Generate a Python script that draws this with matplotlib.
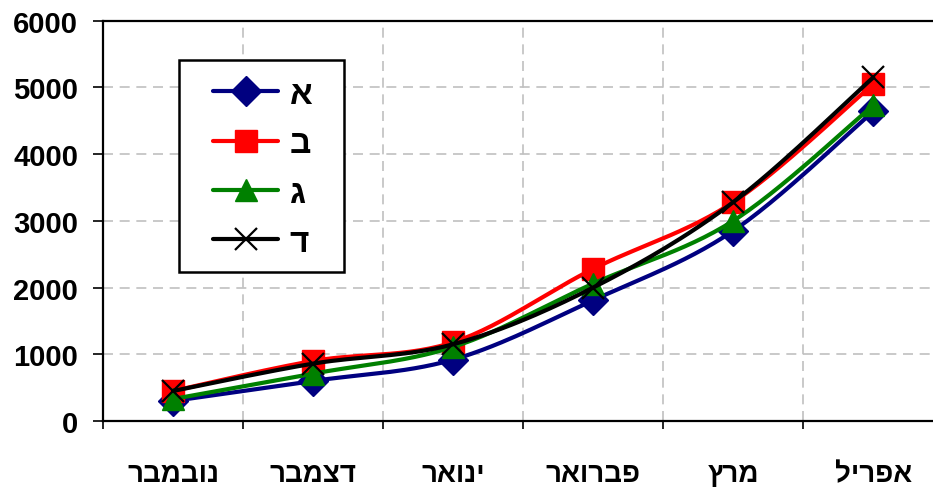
import numpy as np
import matplotlib
matplotlib.use("Agg")
import matplotlib.pyplot as plt
from matplotlib.lines import Line2D
from matplotlib.patches import Rectangle

months = ["נובמבר", "דצמבר", "ינואר", "פברואר", "מרץ", "אפריל"]
series_names = ["א", "ב", "ג", "ד"]
vals_a = [300, 600, 920, 1810, 2850, 4640]
vals_b = [450, 900, 1180, 2280, 3280, 5050]
vals_c = [330, 710, 1110, 2060, 3000, 4730]
vals_d = [450, 860, 1150, 2000, 3280, 5150]
yticks = [0, 1000, 2000, 3000, 4000, 5000, 6000]

colors = ["#000080", "#FF0000", "#008000", "#000000"]
markers = ["D", "s", "^", "x"]

plt.rcParams['font.family'] = ['Liberation Sans', 'DejaVu Sans']
plt.rcParams['font.weight'] = 'bold'


def smooth(xs, ys, n=30):
    xs = np.asarray(xs, float)
    ys = np.asarray(ys, float)
    P = np.column_stack([xs, ys])
    P = np.vstack([P[0], P, P[-1]])
    out = []
    for i in range(1, len(P) - 2):
        p0, p1, p2, p3 = P[i - 1], P[i], P[i + 1], P[i + 2]
        c1 = p1 + (p2 - p0) / 6.0
        c2 = p2 - (p3 - p1) / 6.0
        t = np.linspace(0, 1, n)[:, None]
        seg = ((1 - t) ** 3) * p1 + 3 * ((1 - t) ** 2) * t * c1 + 3 * (1 - t) * t ** 2 * c2 + t ** 3 * p2
        out.append(seg if i == 1 else seg[1:])
    out = np.vstack(out)
    return out[:, 0], out[:, 1]


# the reference shows the Hebrew glyphs in logical order left-to-right;
# the renderer applies RTL reordering, so feed it the reversed strings
month_labels = [m[::-1] for m in months]

W, H = 933, 489
fig = plt.figure(figsize=(W / 100, H / 100), dpi=100)
ax = fig.add_axes([103 / W, 67 / H, 840.3 / W, 400.3 / H])

x = np.arange(len(months))
all_vals = [vals_a, vals_b, vals_c, vals_d]
handles = []
for i, (vals, c, m) in enumerate(zip(all_vals, colors, markers)):
    sx, sy = smooth(x, vals)
    ax.plot(sx, sy, color=c, lw=3.0, solid_capstyle='round', zorder=3 + i, clip_on=False)
    if m == 'x':
        ax.plot(x, vals, linestyle='none', marker='x', ms=16, mew=1.6, color=c, zorder=3 + i, clip_on=False)
        h = Line2D([], [], color=c, lw=3.0, marker='x', ms=16, mew=1.6, solid_capstyle='round')
    else:
        ms = 15 if m == 'D' else 16
        ax.plot(x, vals, linestyle='none', marker=m, ms=ms, mec=c, mfc=c, color=c, zorder=3 + i, clip_on=False)
        h = Line2D([], [], color=c, lw=3.0, marker=m, ms=ms, mfc=c, mec=c, solid_capstyle='round')
    handles.append(h)

ax.set_xlim(-0.5, 5.5)
ax.set_ylim(0, 6000)
ax.set_yticks(yticks)
ax.set_yticklabels([str(v) for v in yticks])
ax.set_xticks(np.arange(-0.5, 6.0, 1.0))
ax.set_xticklabels([])
ax.set_xticks(x, minor=True)
ax.set_xticklabels(month_labels, minor=True)
ax.tick_params(axis='x', which='minor', length=0, pad=29, labelsize=20)
ax.tick_params(axis='x', which='major', length=6, width=1.2, direction='out')
ax.tick_params(axis='y', which='major', length=7, width=1.2, direction='out', pad=11, labelsize=21)
for lab in ax.get_yticklabels() + ax.get_xticklabels(minor=True):
    lab.set_fontweight('bold')

ax.grid(True, which='major', axis='both', color='#c0c0c0', linestyle=(0, (6, 4)), lw=1.2, zorder=0)
ax.set_axisbelow(True)

for s in ['left', 'bottom', 'top', 'right']:
    ax.spines[s].set_linewidth(1.6)
    ax.spines[s].set_color('black')

# legend frame box
frame = Rectangle((179 / W, 1 - 273 / H), 165 / W, 212 / H, transform=fig.transFigure,
                  facecolor='white', edgecolor='black', lw=1.8, zorder=9, clip_on=False)
ax.add_patch(frame)

leg = ax.legend(handles, series_names, loc='upper left',
                bbox_to_anchor=(213 / W, 1 - 80 / H), bbox_transform=fig.transFigure,
                frameon=False, prop={'size': 24, 'weight': 'bold'}, handlelength=1.95,
                handletextpad=0.35, labelspacing=0.55, borderpad=0,
                borderaxespad=0, markerfirst=True)
leg.set_zorder(10)

fig.savefig("out.png", dpi=100)
